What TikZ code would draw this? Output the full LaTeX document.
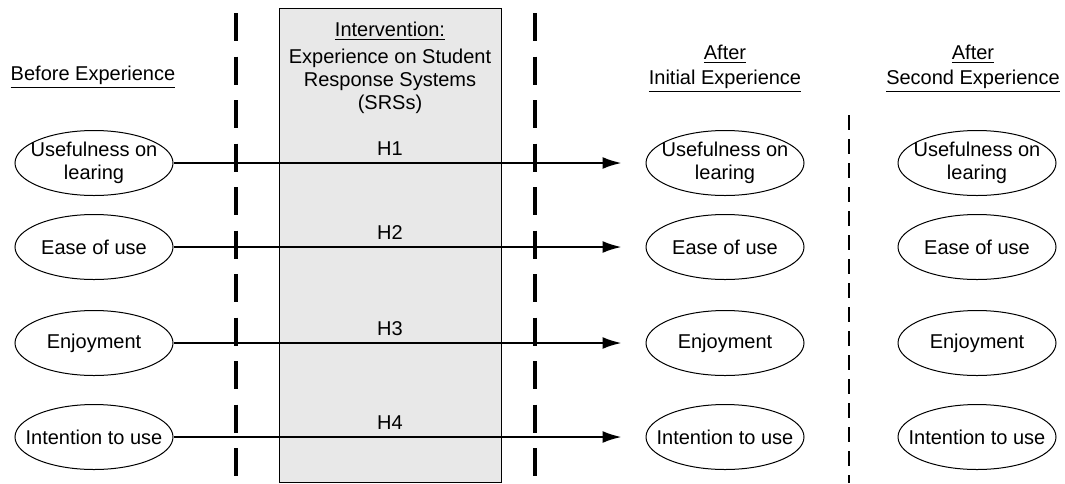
\documentclass[tikz,border=0pt]{standalone}
\usepackage{fontspec}
\setmainfont{Liberation Sans}
\usetikzlibrary{arrows.meta,shapes.geometric}
\begin{document}
\begin{tikzpicture}[x=0.5pt,y=-0.5pt,
  font=\fontsize{10pt}{11.5pt}\selectfont,
  state/.style={draw, ellipse, line width=0.5pt, minimum width=79pt, minimum height=32.5pt,
    inner xsep=-8pt, inner ysep=0pt, align=center},
  hyp/.style={-{Latex[length=9.5pt,width=6pt]}, line width=1pt, shorten >=12pt},
  bigdash/.style={line width=1.7pt, dash pattern=on 14pt off 7.75pt},
  smalldash/.style={line width=0.75pt, dash pattern=on 7.5pt off 4.5pt},
  header/.style={align=center, anchor=base},
  hlabel/.style={inner sep=0pt}]
\useasboundingbox (0,0) rectangle (1065,483);
% intervention box
\node[draw, fill=gray!18, line width=0.5pt, minimum width=111pt, minimum height=237pt,
  anchor=north west, inner sep=0pt] (box) at (279,8) {};
% headers (base anchor = baseline of the last line)
\node[header] (intv) at (390,109) {\underline{Intervention:}\\[2pt]Experience on Student\\Response Systems\\(SRSs)};
\node[header] (before) at (93,80) {\underline{Before Experience}};
\node[header] (after1) at (725,84) {\underline{After}\\[1pt]\underline{Initial Experience}};
\node[header] (after2) at (973,84) {\underline{After}\\[1pt]\underline{Second Experience}};
% dashed separators
\coordinate (d1t) at (236,13);
\coordinate (d1b) at (236,483);
\coordinate (d2t) at (535,13);
\coordinate (d2b) at (535,483);
\coordinate (d3t) at (849,115);
\coordinate (d3b) at (849,483);
\draw[bigdash] (d1t) -- (d1b);
\draw[bigdash] (d2t) -- (d2b);
\draw[smalldash] (d3t) -- (d3b);
% rows
\foreach \i/\y/\t in {1/163/{Usefulness on\\learing}, 2/247/{Ease of use}, 3/343/{Enjoyment}, 4/437/{Intention to use}} {
  \node[state] (l\i) at (94,\y) {\t};
  \node[state] (m\i) at (725,\y) {\t};
  \node[state] (r\i) at (977,\y) {\t};
  \draw[hyp] (l\i.east) -- (m\i.west);
  \node[hlabel] (h\i) at (390,\y-14) {H\i};
}
\end{tikzpicture}
\end{document}
